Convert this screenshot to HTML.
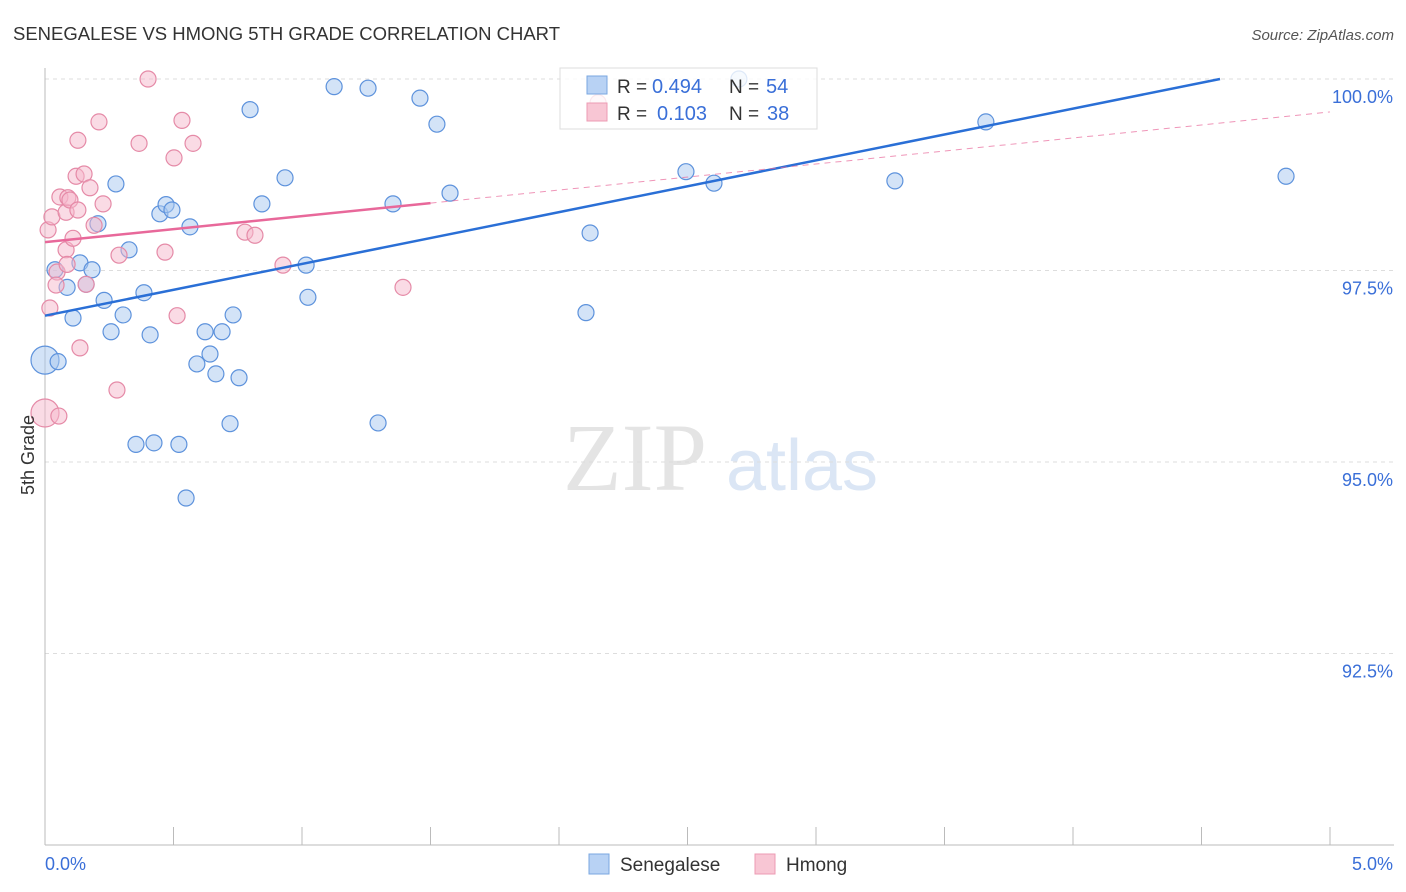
<!DOCTYPE html>
<html><head><meta charset="utf-8"><style>
body{margin:0;background:#fff;font-family:"Liberation Sans",sans-serif}
svg{display:block}
</style></head><body>
<svg width="1406" height="892" xmlns="http://www.w3.org/2000/svg">
<text x="13" y="40" font-size="18.5" fill="#333" textLength="547">SENEGALESE VS HMONG 5TH GRADE CORRELATION CHART</text>
<text x="1394" y="40" font-size="15" fill="#555" text-anchor="end" font-style="italic">Source: ZipAtlas.com</text>
<g>
<text x="635" y="490" font-size="96" fill="#e4e4e4" text-anchor="middle" font-family="Liberation Serif,serif">ZIP</text>
<text x="802" y="490" font-size="72" fill="#dbe6f5" text-anchor="middle">atlas</text>
</g>
<g id="grid"></g><g id="axes"></g><g id="pts"></g><g id="trend"></g>
<text transform="translate(34,455) rotate(-90)" font-size="18" fill="#333" text-anchor="middle">5th Grade</text>
<g>
<rect x="560" y="68" width="257" height="61" fill="#fff" fill-opacity="0.8" stroke="#ddd"/>
<rect x="587" y="76" width="20" height="18" fill="#b8d2f4" stroke="#7aa7e0"/>
<rect x="587" y="103" width="20" height="18" fill="#f8c6d4" stroke="#ec9bb3"/>
<text x="617" y="93" font-size="19" fill="#333">R =</text>
<text x="652" y="93" font-size="20" fill="#3a6fd8">0.494</text>
<text x="729" y="93" font-size="19" fill="#333">N =</text>
<text x="766" y="93" font-size="20" fill="#3a6fd8">54</text>
<text x="617" y="120" font-size="19" fill="#333">R =</text>
<text x="657" y="120" font-size="20" fill="#3a6fd8">0.103</text>
<text x="729" y="120" font-size="19" fill="#333">N =</text>
<text x="767" y="120" font-size="20" fill="#3a6fd8">38</text>
</g>
<g>
<rect x="589" y="854" width="20" height="20" fill="#b8d2f4" stroke="#7aa7e0"/>
<text x="620" y="871" font-size="19" fill="#333">Senegalese</text>
<rect x="755" y="854" width="20" height="20" fill="#f8c6d4" stroke="#ec9bb3"/>
<text x="786" y="871" font-size="19" fill="#333">Hmong</text>
</g>
</svg>
<script>
const blueX=[0,.051,.039,.086,.109,.136,.160,.183,.206,.230,.257,.276,.304,.327,.385,.409,.354,.424,.521,.447,.471,.494,.564,.549,.591,.623,.642,.665,.689,.720,.732,.755,.798,.844,.934,1.016,1.023,1.125,1.257,1.296,1.354,1.459,1.525,1.576,2.105,2.121,2.494,2.603,2.700,3.307,3.661,4.829];
const blueY=[96.33,96.31,97.51,97.28,96.88,97.60,97.32,97.51,98.11,97.11,96.70,98.63,96.92,97.77,97.21,96.66,95.23,95.25,95.23,98.24,98.36,98.29,98.07,94.53,96.28,96.70,96.41,96.15,96.70,95.50,96.92,96.10,99.60,98.37,98.71,97.57,97.15,99.90,99.88,95.51,98.37,99.75,99.41,98.51,96.95,97.99,98.79,98.64,100.0,98.67,99.44,98.73];
const pinkX=[0,.054,.012,.027,.019,.047,.043,.058,.082,.089,.097,.082,.086,.109,.121,.128,.128,.136,.152,.160,.175,.191,.210,.226,.280,.288,.366,.401,.467,.502,.514,.533,.576,.778,.817,.926,1.393,2.152];
const pinkY=[95.64,95.60,98.03,98.20,97.01,97.48,97.31,98.46,98.26,98.45,98.42,97.77,97.58,97.92,98.73,98.29,99.20,96.49,98.76,97.32,98.58,98.09,99.44,98.37,95.94,97.70,99.16,100.0,97.74,98.97,96.91,99.46,99.16,98.00,97.96,97.57,97.28,99.69];
const blueTrend=[96.91,100.0];
const blueTrendX=[0,4.572];
const pinkTrend=[97.87,99.57];
const pinkSolidEnd=1.5;
const yTicks=[100,97.5,95,92.5];
const yTickLabels=["100.0%","97.5%","95.0%","92.5%"];
const xTickLabels=["0.0%","5.0%"];
const X=v=>45+v*257, Y=v=>79+(100-v)*76.6;
const NS="http://www.w3.org/2000/svg";
function mk(p,t,a){const e=document.createElementNS(NS,t);for(const k in a)e.setAttribute(k,a[k]);document.getElementById(p).appendChild(e);return e;}
yTicks.forEach((t,i)=>{
 const l=mk('grid','line',{x1:45,x2:1394,y1:Y(t),y2:Y(t),stroke:'#ddd','stroke-dasharray':'4,4'});
 
 
 const tx=mk('grid','text',{x:1393,y:Y(t)+24,'font-size':18,fill:'#3a6fd8','text-anchor':'end'});tx.textContent=yTickLabels[i];
 
 
});
const ax=mk('axes','line',{x1:45,x2:45,y1:68,y2:845,stroke:'#bbb'});


const bx=mk('axes','line',{x1:45,x2:1394,y1:845,y2:845,stroke:'#bbb'});


for(let i=0;i<=10;i++){const t=mk('axes','line',{x1:X(i*.5),x2:X(i*.5),y1:827,y2:845,stroke:'#bbb'});
 
 }
[[0,'start',45],[5,'end',1393]].forEach((d,i)=>{const t=mk('axes','text',{x:d[2],y:870,'font-size':18,fill:'#3a6fd8','text-anchor':d[1]});t.textContent=xTickLabels[i];
 
 });
function dots(xs,ys,fill,stroke,name){xs.forEach((x,i)=>{const c=mk('pts','circle',{cx:X(x),cy:Y(ys[i]),r:i==0?14:8,fill:fill,'fill-opacity':0.5,stroke:stroke,'stroke-width':1.2});
 
 });}
dots(blueX,blueY,'#a8c8f0','#5d92dc','senegalese-point');
dots(pinkX,pinkY,'#f5b8cb','#e58aa7','hmong-point');
const bl=mk('trend','line',{x1:X(blueTrendX[0]),y1:Y(blueTrend[0]),x2:X(blueTrendX[1]),y2:Y(blueTrend[1]),stroke:'#2a6fd6','stroke-width':2.5});


const py=x=>pinkTrend[0]+(pinkTrend[1]-pinkTrend[0])*x/5;
const pl=mk('trend','line',{x1:X(0),y1:Y(py(0)),x2:X(pinkSolidEnd),y2:Y(py(pinkSolidEnd)),stroke:'#e8689a','stroke-width':2.5});


const pd=mk('trend','line',{x1:X(pinkSolidEnd),y1:Y(py(pinkSolidEnd)),x2:X(5),y2:Y(py(5)),stroke:'#e8689a','stroke-width':1,'stroke-dasharray':'6,5','stroke-opacity':0.7});


</script>
</body></html>
